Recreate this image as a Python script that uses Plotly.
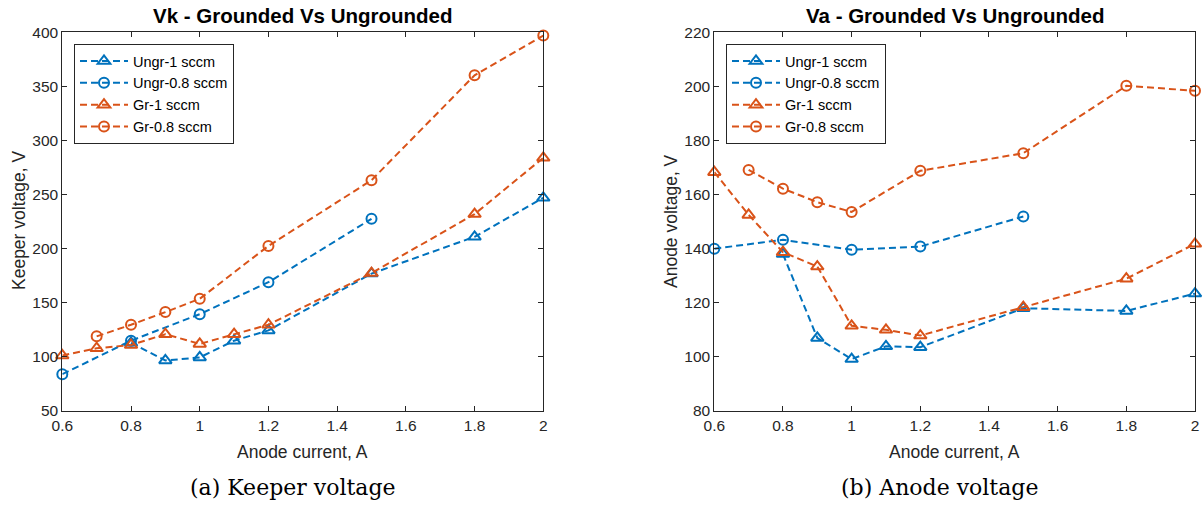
import plotly.graph_objects as go

BLUE = "#0072BD"
ORANGE = "#D95319"

# ---- Data: Keeper voltage (left) ----
vk_ungr1_x = [0.8, 0.9, 1.0, 1.1, 1.2, 1.5, 1.8, 2.0]
vk_ungr1_y = [113, 96.7, 99.5, 115, 124.5, 177, 211, 247]
vk_ungr08_x = [0.6, 0.8, 1.0, 1.2, 1.5]
vk_ungr08_y = [84, 115, 139.5, 169, 227.6]
vk_gr1_x = [0.6, 0.7, 0.8, 0.9, 1.0, 1.1, 1.2, 1.5, 1.8, 2.0]
vk_gr1_y = [101.3, 108, 111, 121, 112, 121, 129.7, 177.5, 232, 284]
vk_gr08_x = [0.7, 0.8, 0.9, 1.0, 1.2, 1.5, 1.8, 2.0]
vk_gr08_y = [119, 129.7, 141.4, 153.7, 202.6, 263.3, 360.3, 397]

# ---- Data: Anode voltage (right) ----
va_ungr1_x = [0.8, 0.9, 1.0, 1.1, 1.2, 1.5, 1.8, 2.0]
va_ungr1_y = [138, 107, 99.2, 103.9, 103.6, 118, 117, 123.4]
va_ungr08_x = [0.6, 0.8, 1.0, 1.2, 1.5]
va_ungr08_y = [140, 143.3, 139.6, 140.8, 151.9]
va_gr1_x = [0.6, 0.7, 0.8, 0.9, 1.0, 1.1, 1.2, 1.5, 1.8, 2.0]
va_gr1_y = [168.3, 152.5, 138.7, 133.4, 111.5, 110, 107.9, 118.4, 128.9, 141.8]
va_gr08_x = [0.7, 0.8, 0.9, 1.0, 1.2, 1.5, 1.8, 2.0]
va_gr08_y = [169.1, 162.2, 157.2, 153.6, 168.8, 175.3, 200.2, 198.4]

names = ["Ungr-1 sccm", "Ungr-0.8 sccm", "Gr-1 sccm", "Gr-0.8 sccm"]
colors = [BLUE, BLUE, ORANGE, ORANGE]
symbols = ["triangle-up-open", "circle-open", "triangle-up-open", "circle-open"]
sizes = [11, 10, 11, 10]

left_series = [(vk_ungr1_x, vk_ungr1_y), (vk_ungr08_x, vk_ungr08_y),
               (vk_gr1_x, vk_gr1_y), (vk_gr08_x, vk_gr08_y)]
right_series = [(va_ungr1_x, va_ungr1_y), (va_ungr08_x, va_ungr08_y),
                (va_gr1_x, va_gr1_y), (va_gr08_x, va_gr08_y)]

fig = go.Figure()
for i, (x, y) in enumerate(left_series):
    fig.add_trace(go.Scatter(
        x=x, y=y, name=names[i], mode="lines+markers",
        line=dict(color=colors[i], width=2, dash="7px,4px"),
        marker=dict(symbol=symbols[i], size=sizes[i], color=colors[i],
                    line=dict(width=2, color=colors[i])),
        cliponaxis=False, xaxis="x", yaxis="y", legend="legend"))
for i, (x, y) in enumerate(right_series):
    fig.add_trace(go.Scatter(
        x=x, y=y, name=names[i], mode="lines+markers",
        line=dict(color=colors[i], width=2, dash="7px,4px"),
        marker=dict(symbol=symbols[i], size=sizes[i], color=colors[i],
                    line=dict(width=2, color=colors[i])),
        cliponaxis=False, xaxis="x2", yaxis="y2", legend="legend2"))

W, H = 1203, 508
L1, R1 = 62.3, 543.3
L2, R2 = 714.3, 1195.0
T, B = 32.3, 411.0

AX = "#262626"
FONT = "Liberation Sans, Arial, sans-serif"
TICK = 15.5
LAB = 17.5

def xaxis(dom, anchor):
    return dict(domain=dom, range=[0.6, 2.0], dtick=0.2, tick0=0.6,
                showgrid=False, zeroline=False, showline=True, linecolor=AX,
                linewidth=1, mirror="ticks", ticks="inside", ticklen=5,
                tickcolor=AX, tickfont=dict(size=TICK, color=AX, family=FONT),
                anchor=anchor, automargin=False)

def yaxis(rng, dt, anchor):
    return dict(domain=[1 - B / H, 1 - T / H], range=rng, dtick=dt,
                showgrid=False, zeroline=False, showline=True, linecolor=AX,
                linewidth=1, mirror="ticks", ticks="inside", ticklen=5,
                tickcolor=AX, tickfont=dict(size=TICK, color=AX, family=FONT),
                anchor=anchor, automargin=False)

legend_common = dict(bgcolor="white", bordercolor=AX, borderwidth=1,
                     font=dict(size=14.5, color="#000000", family=FONT),
                     xanchor="left", yanchor="top", tracegroupgap=0,
                     itemwidth=48)

fig.update_layout(
    width=W, height=H, margin=dict(l=0, r=0, t=0, b=0),
    paper_bgcolor="white", plot_bgcolor="white",
    font=dict(family=FONT, color=AX),
    xaxis=xaxis([L1 / W, R1 / W], "y"),
    yaxis=yaxis([50, 400], 50, "x"),
    xaxis2=xaxis([L2 / W, R2 / W], "y2"),
    yaxis2=yaxis([80, 220], 20, "x2"),
    legend=dict(x=74 / W, y=1 - 44 / H, **legend_common),
    legend2=dict(x=726 / W, y=1 - 44 / H, **legend_common),
    showlegend=True,
)

ann = []
# titles
for txt, cx in [("<b>Vk - Grounded Vs Ungrounded</b>", (L1 + R1) / 2),
                ("<b>Va - Grounded Vs Ungrounded</b>", (L2 + R2) / 2)]:
    ann.append(dict(text=txt, x=cx / W, y=1 - 16 / H, xref="paper", yref="paper",
                    showarrow=False, xanchor="center", yanchor="middle",
                    font=dict(size=20.5, color="#000000", family=FONT)))
# x labels
for cx in [(L1 + R1) / 2, (L2 + R2) / 2]:
    ann.append(dict(text="Anode current, A", x=cx / W, y=1 - 452 / H,
                    xref="paper", yref="paper", showarrow=False,
                    xanchor="center", yanchor="middle",
                    font=dict(size=LAB, color=AX, family=FONT)))
# y labels
for txt, cx in [("Keeper voltage, V", 19), ("Anode voltage, V", 671)]:
    ann.append(dict(text=txt, x=cx / W, y=1 - 221 / H, textangle=-90,
                    xref="paper", yref="paper", showarrow=False,
                    xanchor="center", yanchor="middle",
                    font=dict(size=LAB, color=AX, family=FONT)))
# captions
for txt, cx in [("(a) Keeper voltage", 292.5), ("(b) Anode voltage", 939)]:
    ann.append(dict(text=txt, x=cx / W, y=1 - 487 / H,
                    xref="paper", yref="paper", showarrow=False,
                    xanchor="center", yanchor="middle",
                    font=dict(size=22, color="#000000", family="DejaVu Serif, serif")))
fig.update_layout(annotations=ann)

fig.write_html("out.html")
